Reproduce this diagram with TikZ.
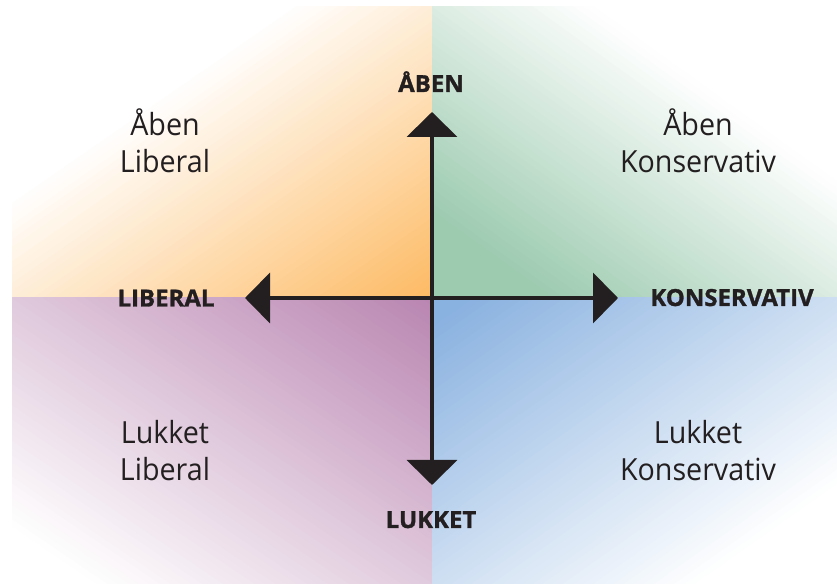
\documentclass[tikz,border=0pt]{standalone}
\usepackage{fontspec}
\setmainfont{Open Sans}
\newfontfamily\lblfont[FakeStretch=1.02,FakeBold=1.2]{Open Sans}
\newfontfamily\quadfont[FakeStretch=0.94]{Open Sans}
\usetikzlibrary{arrows.meta}
\definecolor{qorange}{HTML}{FDBA63}
\definecolor{qgreen}{HTML}{9DCBB0}
\definecolor{qpurple}{HTML}{B985B1}
\definecolor{qblue}{HTML}{8AB2E0}
\definecolor{axisblack}{HTML}{231F20}
% #1 colour, #2/#3 white corner, #4/#5 signed quadrant size, #6 ramp start, #7 ramp span
\newcommand\mkquadshade[7]{%
  \begin{scope}[shift={(#2,#3)}, xscale=#4, yscale=#5]
    \clip (0,0) rectangle (1,1);
    \foreach \i in {0,...,79}{
      \pgfmathsetmacro\ca{\i/40}
      \pgfmathsetmacro\cb{(\i+1.3)/40}
      \pgfmathsetmacro\pp{100*max(0,min(1,((\i+0.5)/80-#6)/#7))}
      \fill[#1!\pp!white] (\ca+1,-1) -- (\ca-2,2) -- (\cb-2,2) -- (\cb+1,-1) -- cycle;
    }
  \end{scope}}
\begin{document}
\begin{tikzpicture}[x=1pt,y=1pt,
  axisline/.style={line width=4pt, draw=axisblack,
    {Triangle[length=25pt,width=50pt]}-{Triangle[length=25pt,width=50pt]}},
  axislbl/.style={font=\lblfont\bfseries\fontsize{23.5}{27}\selectfont,
    text=axisblack, anchor=base, inner sep=0pt},
  quadlbl/.style={font=\quadfont\fontsize{30.5}{37}\selectfont,
    align=center, anchor=base, inner sep=0pt, text=axisblack}]
\useasboundingbox (0,0) rectangle (837,583);
% quadrant gradients
\mkquadshade{qorange}{12}{576}{420}{-291}{0.33}{0.67}
\mkquadshade{qgreen}{837}{576}{-405}{-291}{0.3}{0.55}
\mkquadshade{qpurple}{12}{0}{420}{285}{0.1}{0.9}
\mkquadshade{qblue}{837}{0}{-405}{285}{0.17}{0.78}
% axes
\coordinate (N) at (432,471);
\coordinate (S) at (432,98);
\coordinate (W) at (245,285);
\coordinate (E) at (618,285);
\draw[axisline] (W) -- (E);
\draw[axisline] (S) -- (N);
% axis labels
\node[axislbl] (lopen) at (431,491) {ÅBEN};
\node[axislbl] (lclosed) at (431,55) {LUKKET};
\node[axislbl] (llib) at (166,276.5) {LIBERAL};
\node[axislbl] (lkons) at (732,277) {KONSERVATIV};
% quadrant labels (anchor = baseline of last line)
\node[quadlbl] (qtl) at (165,410) {Åben\\Liberal};
\node[quadlbl] (qtr) at (698,410) {Åben\\Konservativ};
\node[quadlbl] (qbl) at (165,102.5) {Lukket\\Liberal};
\node[quadlbl] (qbr) at (698,102.5) {Lukket\\Konservativ};
\end{tikzpicture}
\end{document}
